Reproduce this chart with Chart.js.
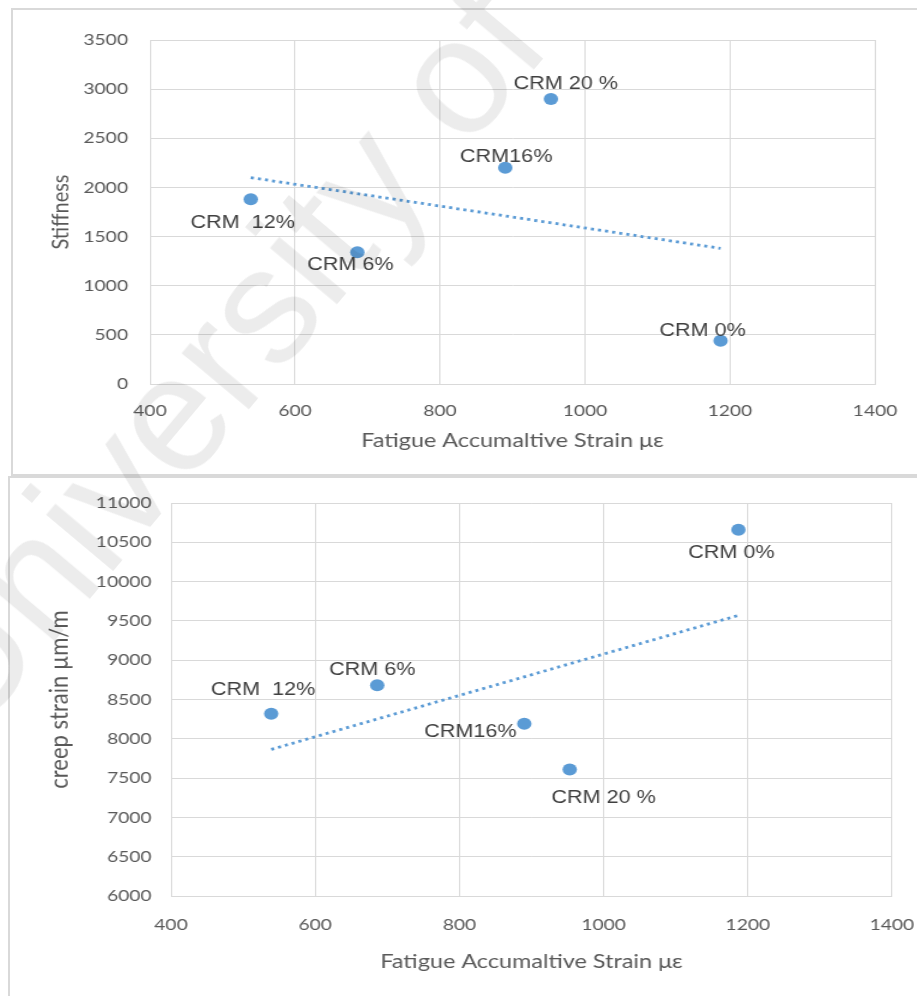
<!DOCTYPE html>
<html>
<head>
<meta charset="utf-8">
<script src="https://cdn.jsdelivr.net/npm/chart.js"></script>
<style>
  body { margin: 0; background: #fff; width: 917px; height: 996px; overflow: hidden; position: relative; }
  .frame { position: absolute; border: 2px solid #d9d9d9; box-sizing: border-box; }
  #f1 { left: 11px; top: 8px; width: 930px; height: 468px; }
  #f2 { left: 8px; top: 476px; width: 930px; height: 540px; }
  .box { position: absolute; transform-origin: 0 0; }
  #wm { position: absolute; left: -25px; top: 745px; transform-origin: 0 0; transform: rotate(-50deg) translateY(-145px);
        font: 165px "Liberation Sans"; line-height: 1; white-space: nowrap; color: rgba(0,0,0,0.075); pointer-events: none; }
</style>
</head>
<body>
<div class="frame" id="f1"></div>
<div class="frame" id="f2"></div>
<div class="box" id="b1"><canvas id="stiffChart"></canvas></div>
<div class="box" id="b2"><canvas id="creepChart"></canvas></div>
<div id="wm">University of Malaya</div>
<script>
// data
var mixLabels = ["CRM 0%", "CRM 6%", "CRM  12%", "CRM16%", "CRM 20 %"];
var strainX = [1187, 686, 539, 890, 953];
var stiffness = [440, 1340, 1880, 2200, 2900];
var creepStrain = [10660, 8680, 8320, 8190, 7610];
var trendX = [539, 1187];
var stiffTrend = [2100, 1380];
var creepTrend = [7865, 9570];
var xTicks = [400, 600, 800, 1000, 1200, 1400];
var stiffTicks = [0, 500, 1000, 1500, 2000, 2500, 3000, 3500];
var creepTicks = [6000, 6500, 7000, 7500, 8000, 8500, 9000, 9500, 10000, 10500, 11000];

var S = 1.2; // source image is stretched sideways, so draw narrow and scale the box
var blue = '#5b9bd5';
var grey = '#595959';
var gridCol = '#d9d9d9';

// labels next to each point, offsets in page pixels
var pointLabels = {
    id: 'pointLabels',
    afterDatasetsDraw: function(chart, args, opts) {
        var meta = chart.getDatasetMeta(0);
        var ctx = chart.ctx;
        ctx.save();
        ctx.font = '18px "Liberation Sans"';
        ctx.fillStyle = '#404040';
        ctx.textAlign = 'center';
        ctx.textBaseline = 'middle';
        meta.data.forEach(function(pt, i) {
            var off = opts.offsets[i];
            ctx.fillText(mixLabels[i], pt.x + off[0] / S, pt.y + off[1]);
        });
        ctx.restore();
    }
};

function plain(v) { return String(v); }

function makeChart(id, box, c) {
    var el = document.getElementById(box);
    var w = Math.round(c.width / S);
    el.style.left = c.left + 'px';
    el.style.top = c.top + 'px';
    el.style.width = w + 'px';
    el.style.height = c.height + 'px';
    el.style.transform = 'scaleX(' + S + ')';

    var plotL = (c.plotLeft - c.left) / S;
    var plotR = (c.plotRight - c.left) / S;

    var pts = strainX.map(function(x, i) { return { x: x, y: c.values[i] }; });
    var trend = trendX.map(function(x, i) { return { x: x, y: c.trend[i] }; });

    return new Chart(document.getElementById(id), {
        type: 'scatter',
        data: {
            datasets: [{
                data: pts,
                pointRadius: 6,
                pointBackgroundColor: blue,
                pointBorderWidth: 0,
                order: 0
            }, {
                type: 'line',
                data: trend,
                borderColor: blue,
                borderWidth: 2.8,
                borderDash: [2.6, 3.4],
                pointRadius: 0,
                fill: false,
                order: 1
            }]
        },
        options: {
            animation: false,
            responsive: true,
            maintainAspectRatio: false,
            layout: { padding: { left: 0, top: c.plotTop - c.top, right: w - plotR, bottom: 0 } },
            plugins: {
                legend: { display: false },
                tooltip: { enabled: false },
                pointLabels: { offsets: c.offsets }
            },
            scales: {
                x: {
                    type: 'linear', min: 400, max: 1400,
                    afterBuildTicks: function(s) { s.ticks = xTicks.map(function(v) { return { value: v }; }); },
                    afterFit: function(s) {
                        s.height = c.top + c.height - c.plotBottom;
                        s.paddingLeft = 0; s.paddingRight = 0;
                    },
                    grid: { color: gridCol, drawTicks: false },
                    border: { color: gridCol },
                    ticks: { color: grey, font: { family: 'Lato', size: 16 }, padding: c.xTickPad, maxRotation: 0, callback: plain },
                    title: { display: true, text: 'Fatigue Accumaltive Strain με', color: grey,
                             font: { family: 'Lato', size: 19.5 }, padding: { top: 0, bottom: 22.3 } }
                },
                y: {
                    min: c.ticks[0], max: c.ticks[c.ticks.length - 1],
                    afterBuildTicks: function(s) { s.ticks = c.ticks.map(function(v) { return { value: v }; }); },
                    afterFit: function(s) {
                        s.width = plotL;
                        s.paddingTop = 0; s.paddingBottom = 0;
                    },
                    grid: { color: gridCol, drawTicks: false },
                    border: { color: gridCol },
                    ticks: { color: grey, font: { family: 'Lato', size: 16 }, padding: c.yTickPad / S, callback: plain },
                    title: { display: true, text: c.yTitle, color: grey,
                             font: { family: 'Lato', size: c.yTitleSize },
                             padding: { top: (c.yTitleX - c.left) / S - c.yTitleSize * 0.6, bottom: 0 } }
                }
            }
        },
        plugins: [pointLabels]
    });
}

makeChart('stiffChart', 'b1', {
    left: 12, top: 9, width: 905, height: 466,
    plotLeft: 150, plotRight: 875, plotTop: 40, plotBottom: 384,
    values: stiffness, trend: stiffTrend, ticks: stiffTicks, yTitle: 'Stiffness',
    yTitleX: 61, yTitleSize: 20, yTickPad: 22, xTickPad: 17,
    offsets: [[-18, -10], [-7, 13], [-8, 24], [1, -11], [15, -15]]
});

makeChart('creepChart', 'b2', {
    left: 9, top: 477, width: 908, height: 519,
    plotLeft: 171, plotRight: 892, plotTop: 503, plotBottom: 896,
    values: creepStrain, trend: creepTrend, ticks: creepTicks, yTitle: 'creep strain µm/m',
    yTitleX: 59, yTitleSize: 22, yTickPad: 19.5, xTickPad: 19,
    offsets: [[-7, 23], [-5, -15], [-8, -24], [-54, 8], [34, 29]]
});
</script>
</body>
</html>
